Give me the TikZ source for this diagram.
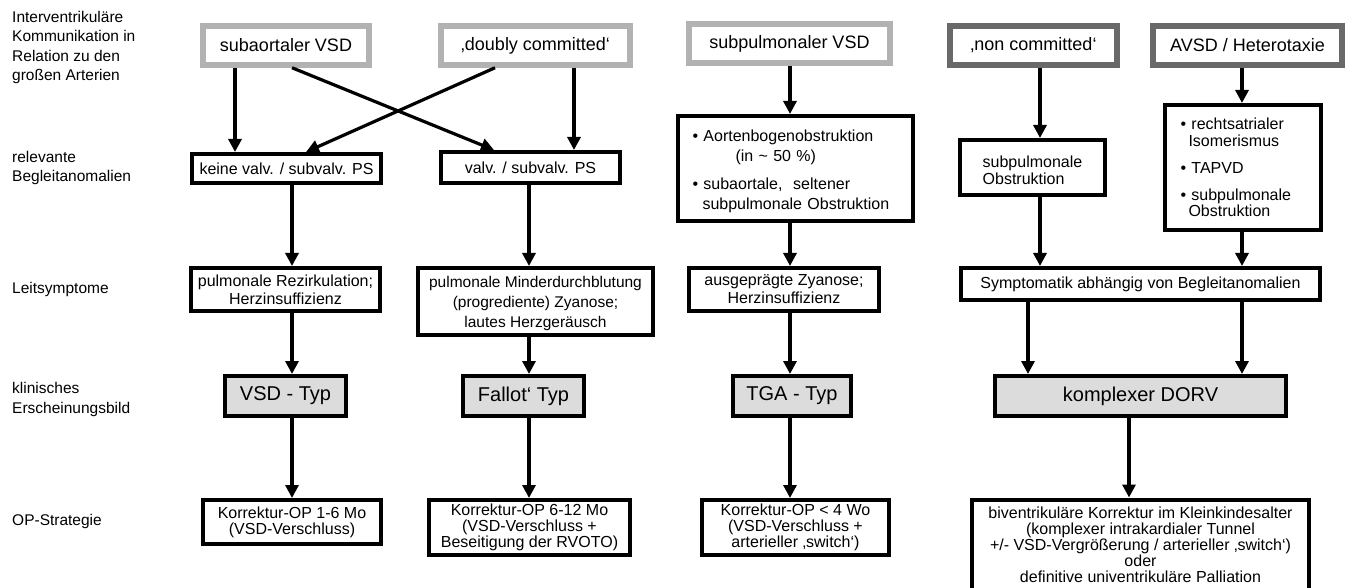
\documentclass[tikz,border=0pt]{standalone}
\usepackage{fontspec}
\setmainfont{Liberation Sans}
\usetikzlibrary{arrows.meta}
\definecolor{lightframe}{RGB}{178,178,178}
\definecolor{darkframe}{RGB}{105,105,105}
\definecolor{typfill}{RGB}{220,220,220}
\begin{document}
\begin{tikzpicture}[x=1pt,y=-1pt,
  every node/.style={inner sep=0pt},
  topbox/.style={draw=lightframe, line width=5.5pt, fill=white, font=\fontsize{18}{21}\selectfont},
  topdark/.style={topbox, draw=darkframe},
  bx/.style={draw=black, line width=4pt, fill=white, align=center, font=\fontsize{16}{18}\selectfont},
  typbox/.style={draw=black, line width=4pt, fill=typfill, minimum height=40, font=\fontsize{20}{24}\selectfont},
  lbl/.style={anchor=west, align=left, font=\fontsize{15.5}{19.5}\selectfont},
  arr/.style={line width=3.2pt, -{Triangle[length=13pt,width=13pt]}}
]
\path[use as bounding box] (0,0) rectangle (1350,588);
\clip (0,0) rectangle (1350,588);

% column coordinates
\coordinate (ca) at (235,0);
\coordinate (cb) at (574,0);
\coordinate (c1) at (292,0);
\coordinate (c2) at (529,0);
\coordinate (c3) at (790,0);
\coordinate (c4) at (1040,0);
\coordinate (c4b) at (1028,0);
\coordinate (c5) at (1242,0);
\coordinate (c6) at (1129,0);
\coordinate (xa) at (494,0);
\coordinate (xb) at (495,0);
\coordinate (xc) at (306,0);

% row labels
\node[lbl] (L1) at (12,47.5) {Interventrikuläre\\Kommunikation in\\Relation zu den\\großen Arterien};
\node[lbl] (L2) at (12,168) {relevante\\Begleitanomalien};
\node[lbl] (L3) at (12,289) {Leitsymptome};
\node[lbl] (L4) at (12,399.5) {klinisches\\Erscheinungsbild};
\node[lbl] (L5) at (12,521) {OP-Strategie};

% row 1
\node[topbox, minimum width=166, minimum height=39] (SA) at (286,45.5) {subaortaler VSD};
\node[topbox, minimum width=189, minimum height=39] (DC) at (535.5,45.5) {‚doubly committed‘};
\node[topbox, minimum width=201, minimum height=39] (SP) at (789.5,43.5) {subpulmonaler VSD};
\node[topdark, minimum width=167, minimum height=39] (NC) at (1033.5,45.5) {‚non committed‘};
\node[topdark, minimum width=189, minimum height=39] (AV) at (1247.5,45.5) {AVSD / Heterotaxie};

% row 2
\node[bx, minimum width=189, minimum height=29] (KV) at (286.5,168.5) {keine valv. / subvalv. PS};
\node[bx, minimum width=179, minimum height=31] (VV) at (530.5,167.5) {valv. / subvalv. PS};
\node[bx, minimum height=105, text width=206, align=left, inner xsep=14.5,
      font=\fontsize{16}{20}\selectfont] (AB) at (795.5,168.5)
  {\rule{0pt}{17pt}\textbullet\ Aortenbogenobstruktion\\\hspace*{43pt}(in \textasciitilde\ 50 \%)\\[8pt]\textbullet\ subaortale,\ \ seltener\\\hspace*{10pt}subpulmonale Obstruktion};
\node[bx, minimum width=145, minimum height=55, align=left,
      font=\fontsize{16}{17}\selectfont] (SO) at (1032.5,167.5) {\rule{0pt}{17pt}subpulmonale\\Obstruktion};
\node[bx, minimum height=125, text width=125, align=left, inner xsep=15.5,
      font=\fontsize{16}{16.5}\selectfont] (LI) at (1243,167.5)
  {\textbullet\ rechtsatrialer\\\hspace*{8pt}Isomerismus\\[10.5pt]\textbullet\ TAPVD\\[10.5pt]\textbullet\ subpulmonale\\\hspace*{8pt}Obstruktion};

% row 3
\node[bx, minimum width=189, minimum height=43] (PR) at (285.5,289.5) {pulmonale Rezirkulation;\\Herzinsuffizienz};
\node[bx, minimum width=235, minimum height=67, font=\fontsize{15.5}{20}\selectfont] (MD) at (535.5,301.5)
  {\rule{0pt}{15pt}pulmonale Minderdurchblutung\\(progrediente) Zyanose;\\lautes Herzgeräusch};
\node[bx, minimum width=190, minimum height=43] (AZ) at (784,289.5) {ausgeprägte Zyanose;\\Herzinsuffizienz};
\node[bx, minimum width=359, minimum height=32] (SY) at (1140.5,284) {Symptomatik abhängig von Begleitanomalien};

% row 4
\node[typbox, minimum width=121] (VT) at (285.5,396) {VSD - Typ};
\node[typbox, minimum width=121] (FT) at (523.5,396) {Fallot‘ Typ};
\node[typbox, minimum width=118] (TT) at (792,396) {TGA - Typ};
\node[typbox, minimum width=291] (DO) at (1140.5,396) {komplexer DORV};

% row 5
\node[bx, minimum width=178, minimum height=44, font=\fontsize{16}{16}\selectfont] (K1) at (292,522)
  {Korrektur-OP 1-6 Mo\\(VSD-Verschluss)};
\node[bx, minimum width=201, minimum height=55, font=\fontsize{16}{16}\selectfont] (K2) at (529.5,527.5)
  {Korrektur-OP 6-12 Mo\\(VSD-Verschluss +\\Beseitigung der RVOTO)};
\node[bx, minimum width=187, minimum height=55, font=\fontsize{16}{16}\selectfont] (K3) at (795.5,527.5)
  {Korrektur-OP < 4 Wo\\(VSD-Verschluss +\\arterieller ‚switch‘)};
\node[bx, minimum width=337, minimum height=91, font=\fontsize{16}{16}\selectfont] (K4) at (1140.5,545)
  {biventrikuläre Korrektur im Kleinkindesalter\\(komplexer intrakardialer Tunnel\\+/- VSD-Vergrößerung / arterieller ‚switch‘)\\oder\\definitive univentrikuläre Palliation};

% connectors row 1 -> row 2
\draw[arr] (SA.south -| ca) -- (KV.north -| ca);
\draw[arr] (SA.south -| c1) -- (VV.north -| xa);
\draw[arr] (DC.south -| xb) -- (KV.north -| xc);
\draw[arr] (DC.south -| cb) -- (VV.north -| cb);
\draw[arr] (SP.south -| c3) -- (AB.north -| c3);
\draw[arr] (NC.south -| c4) -- (SO.north -| c4);
\draw[arr] (AV.south -| c5) -- (LI.north -| c5);

% row 2 -> row 3
\draw[arr] (KV.south -| c1) -- (PR.north -| c1);
\draw[arr] (VV.south -| c2) -- (MD.north -| c2);
\draw[arr] (AB.south -| c3) -- (AZ.north -| c3);
\draw[arr] (SO.south -| c4) -- (SY.north -| c4);
\draw[arr] (LI.south -| c5) -- (SY.north -| c5);

% row 3 -> row 4
\draw[arr] (PR.south -| c1) -- (VT.north -| c1);
\draw[arr] (MD.south -| c2) -- (FT.north -| c2);
\draw[arr] (AZ.south -| c3) -- (TT.north -| c3);
\draw[arr] (SY.south -| c4b) -- (DO.north -| c4b);
\draw[arr] (SY.south -| c5) -- (DO.north -| c5);

% row 4 -> row 5
\draw[arr] (VT.south -| c1) -- (K1.north -| c1);
\draw[arr] (FT.south -| c2) -- (K2.north -| c2);
\draw[arr] (TT.south -| c3) -- (K3.north -| c3);
\draw[arr] (DO.south -| c6) -- (K4.north -| c6);
\end{tikzpicture}
\end{document}
